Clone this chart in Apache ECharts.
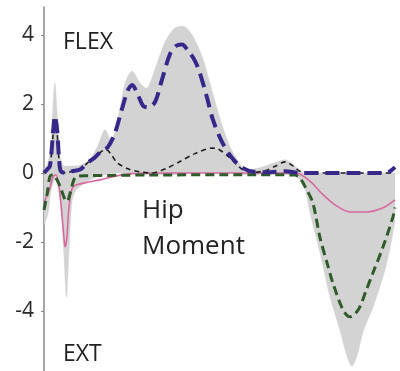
<!DOCTYPE html>
<html>
<head>
<meta charset="utf-8">
<script src="https://cdn.jsdelivr.net/npm/echarts@6/dist/echarts.min.js"></script>
<style>html,body{margin:0;padding:0;background:#fff}#c{width:400px;height:371px}</style>
</head>
<body>
<div id="c"></div>
<script>
// % gait cycle positions and values (N·m/kg)
const bandX = [0,1.1,2.0,2.6,3.1,3.7,4.3,5.1,5.7,6.4,7.1,8.0,9.1,10.8,13.1,15.4,17.4,19.1,21.1,23.1,25.1,27.4,29.1,31.6,34.5,37.3,39.6,42.5,45.3,48.1,51.0,53.8,57.8,61.5,65.8,68.7,71.5,72.9,74.4,75.8,78.6,81.5,84.3,86.3,87.7,89.2,90.9,93.7,97.7,100];
const bandUpper = [0.1,0.3,0.8,2.0,2.6,1.8,0.6,0.3,0.2,0.2,0.2,0.2,0.2,0.25,0.4,0.8,1.25,0.95,1.6,2.6,2.95,2.6,2.45,3.0,3.8,4.2,4.25,3.95,3.3,2.3,1.3,0.6,0.1,0.15,0.3,0.38,0.2,0.05,0,0,0,0,0,0,0,0,0,0,0,0.05];
const bandLower = [-1.5,-1.2,-0.5,-0.3,-0.2,-0.3,-0.6,-1.3,-2.4,-3.6,-2.3,-0.8,-0.5,-0.35,-0.2,-0.1,-0.05,0,0,0,-0.02,-0.05,-0.05,-0.05,-0.05,-0.05,-0.03,0,0,0,0,0,-0.05,-0.05,-0.05,-0.05,-0.08,-0.2,-0.5,-1.16,-2.3,-3.6,-4.55,-5.3,-5.6,-5.3,-4.6,-3.9,-2.6,-1.4];

const navyX = [0,0.9,1.7,2.6,3.1,3.7,4.3,4.8,6.3,8.0,10.3,12.5,14.5,16.5,18.2,20.2,22.2,23.9,25.1,26.8,28.2,29.6,31.6,33.6,35.9,37.6,39.3,41.0,43.0,44.4,46.4,48.1,50.7,53.6,56.7,60.1,64.4,68.7,72.9,78.6,87.2,97.2,98.6,100];
const navyY = [0,0.1,0.2,1.2,1.65,1.3,0.4,0.05,0,0.05,0.1,0.3,0.45,0.65,0.75,1.15,1.85,2.4,2.55,2.25,1.95,1.9,2.05,2.7,3.45,3.68,3.72,3.55,3.25,2.9,2.2,1.55,0.9,0.43,0.14,0.03,0.02,0.05,0,0,0,0,0.05,0.17];

const blackX = [0,0.9,1.7,2.6,3.1,3.7,4.3,4.8,6.3,8.0,10.3,12.5,14.5,16.5,17.7,19.4,20.8,23.9,28.0,30.8,35.0,38.7,43.0,47.8,49.5,52.7,56.7,60.0,63.5,66.0,68.7,71.0,72.9,76.0,100];
const blackY = [0,0.1,0.2,1.1,1.55,1.2,0.35,0.05,0,0.05,0.1,0.3,0.45,0.63,0.68,0.5,0.3,0.12,0.02,0,0.14,0.33,0.56,0.72,0.7,0.46,0.09,0.02,0.08,0.2,0.32,0.2,0.05,0,0];

const greenX = [0,0.9,1.7,2.6,3.7,4.8,6.0,6.6,7.4,8.5,9.4,12,30,60,71.5,72.9,74.4,76.6,78.6,80.9,82.3,85.2,87.2,88.5,90.0,91.8,93.7,96.6,99.4,100];
const greenY = [-1.07,-0.6,-0.1,-0.05,-0.2,-0.45,-0.78,-0.82,-0.6,-0.2,-0.1,-0.08,-0.06,-0.05,-0.06,-0.15,-0.4,-0.87,-1.86,-2.7,-3.19,-3.97,-4.17,-4.1,-3.88,-3.4,-2.9,-2.14,-1.28,-1.0];

const pinkX = [0,1.5,2.6,3.4,4.3,5.1,5.7,6.0,6.5,7.1,8.0,9.1,12,16,20,25,30,72,74,76.5,79,83,87.2,92,96.6,100];
const pinkY = [-0.85,-0.5,-0.1,-0.05,-0.4,-1.2,-1.9,-2.14,-1.9,-1.0,-0.45,-0.35,-0.28,-0.2,-0.1,-0.02,0,0,-0.1,-0.3,-0.58,-0.93,-1.13,-1.13,-1.01,-0.78];

const yTicks = [-4,-2,0,2,4];
const labels = {flex:'FLEX', ext:'EXT', title1:'Hip', title2:'Moment'};

const zip = (xs, ys) => xs.map((x,i)=>[x, ys[i]]);
const FONT = '"Open Sans", sans-serif';
const BAND = '#d3d3d3';

const chart = echarts.init(document.getElementById('c'), null, {renderer:'canvas'});
chart.setOption({
  animation:false,
  backgroundColor:'#fff',
  grid:{left:44, right:5, top:7, bottom:0, containLabel:false},
  xAxis:{type:'value', min:0, max:100, show:false},
  yAxis:{
    type:'value', min:-5.74, max:4.81,
    axisLine:{show:true, lineStyle:{color:'#8a8a8a', width:1.5}},
    axisTick:{show:true, length:3, lineStyle:{color:'#8a8a8a'}, customValues:yTicks},
    axisLabel:{customValues:yTicks, fontSize:21, color:'#2a2a2a', fontFamily:FONT, margin:10},
    splitLine:{show:false}
  },
  series:[
    // band = area between upper bound and 0, plus area between 0 and lower bound
    {type:'line', data:zip(bandX, bandUpper), symbol:'none', smooth:0.3, lineStyle:{width:0.5, color:BAND}, areaStyle:{color:BAND, opacity:1, origin:0}, silent:true, z:1},
    {type:'line', data:zip(bandX, bandLower), symbol:'none', smooth:0.3, lineStyle:{width:0.5, color:BAND}, areaStyle:{color:BAND, opacity:1, origin:0}, silent:true, z:1},
    {type:'line', data:zip(pinkX, pinkY), symbol:'none', smooth:0.3, lineStyle:{color:'#d8699f', width:1.6}, z:3},
    {type:'line', data:zip(greenX, greenY), symbol:'none', smooth:0.3, lineStyle:{color:'#2f5a2a', width:3, type:[9,5]}, z:4},
    {type:'line', data:zip(blackX, blackY), symbol:'none', smooth:0.3, lineStyle:{color:'#1e1e1e', width:1.6, type:[5,4]}, z:5},
    {type:'line', data:zip(navyX, navyY), symbol:'none', smooth:0.3, lineStyle:{color:'#35288a', width:4, type:[14,7]}, z:6}
  ],
  graphic:[
    {type:'text', z:100, style:{x:63, y:42, text:labels.flex, font:'23px '+FONT, fill:'#222', verticalAlign:'middle'}},
    {type:'text', z:100, style:{x:63, y:354.5, text:labels.ext, font:'23px '+FONT, fill:'#222', verticalAlign:'middle'}},
    {type:'text', z:100, style:{x:142, y:211, text:labels.title1, font:'26px '+FONT, fill:'#222', verticalAlign:'middle'}},
    {type:'text', z:100, style:{x:142, y:247, text:labels.title2, font:'26px '+FONT, fill:'#222', verticalAlign:'middle'}}
  ]
});
</script>
</body>
</html>
